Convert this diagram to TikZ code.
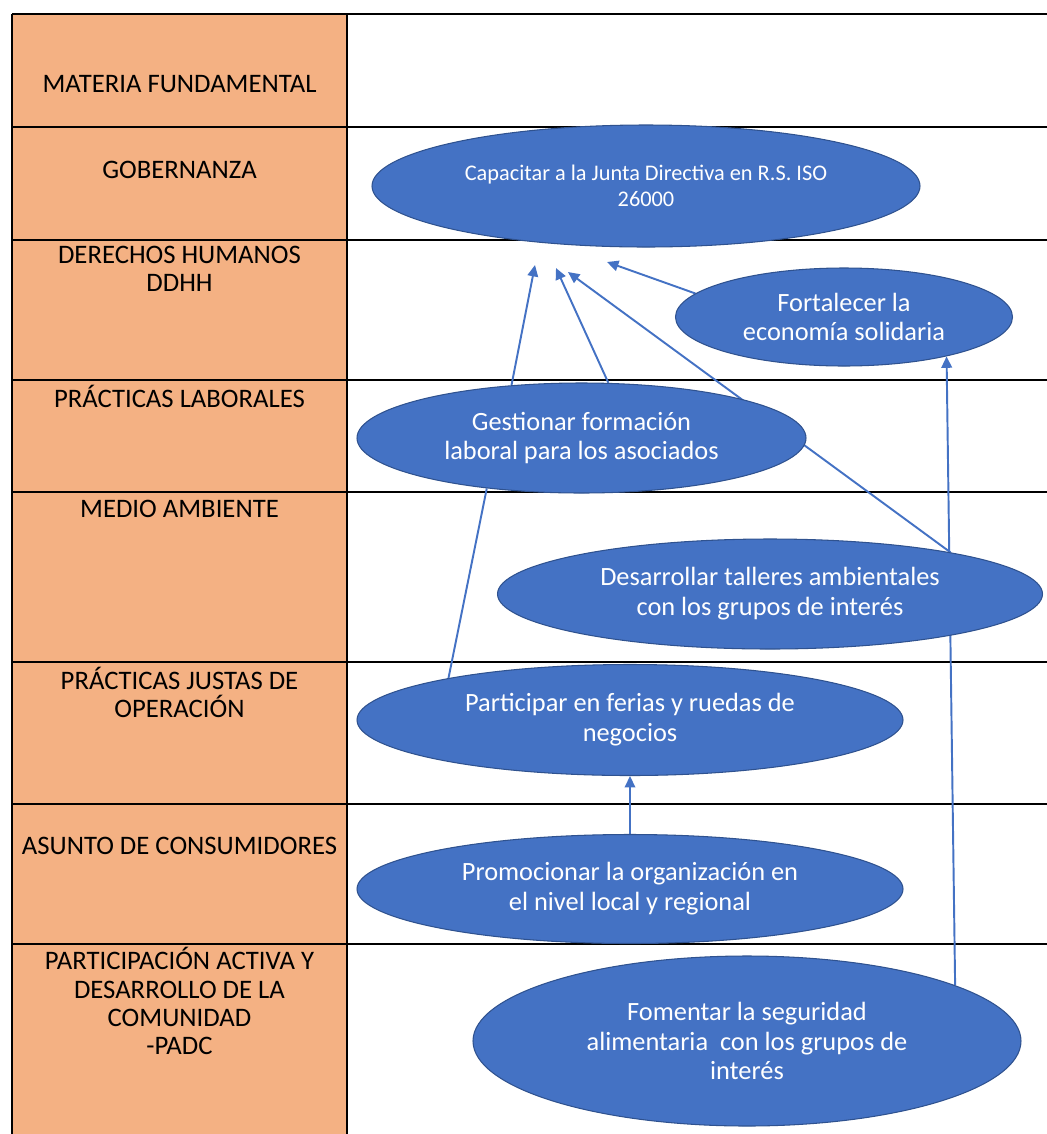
\documentclass[tikz,border=0pt]{standalone}
\usepackage{fontspec}
\setmainfont{Carlito}
\usepackage{xcolor}
\usetikzlibrary{shapes.geometric,arrows.meta}

\definecolor{goalblue}{HTML}{4472C4}
\definecolor{goalrim}{HTML}{2F528F}
\definecolor{topicorange}{HTML}{F4B183}

\pgfdeclarelayer{bg}
\pgfdeclarelayer{edges}
\pgfsetlayers{bg,edges,main}

\begin{document}
\begin{tikzpicture}[->,>={Triangle[length=6.5pt,width=6pt]},thick,
    goal/.style={ellipse,fill=goalblue,draw=goalrim,line width=0.6pt,text=white,align=center,inner sep=0pt,font=\fontsize{15}{17}\selectfont},
    topic/.style={align=center,inner sep=0pt,font=\fontsize{15.2}{16}\selectfont},
    link/.style={goalblue,line width=1.1pt},
    rule/.style={-,black,line width=0.8pt}]

    \useasboundingbox (0,0) rectangle (20.94,-22.68);

    % The table
    \begin{pgfonlayer}{bg}
    \fill[-,topicorange] (0.24,-0.28) rectangle (6.94,-22.68);
    \foreach \y in {-0.28,-2.54,-4.80,-7.60,-9.84,-13.24,-16.08,-18.88}
        \draw[rule] (0.24,\y) -- (20.94,\y);
    \draw[rule] (0.24,-0.28) -- (0.24,-22.68);
    \draw[rule] (6.94,-0.28) -- (6.94,-22.68);
    \end{pgfonlayer}

    % Subjects
    \node [topic] at (3.59,-1.68) (mat) {MATERIA FUNDAMENTAL};
    \node [topic] at (3.59,-3.40) (gob) {GOBERNANZA};
    \node [topic] at (3.59,-5.37) (ddhh) {DERECHOS HUMANOS\\DDHH};
    \node [topic] at (3.59,-7.92) (lab) {PRÁCTICAS LABORALES};
    \node [topic] at (3.59,-10.18) (amb) {MEDIO AMBIENTE};
    \node [topic] at (3.59,-13.85) (jus) {PRÁCTICAS JUSTAS DE\\OPERACIÓN};
    \node [topic] at (3.59,-16.92) (con) {ASUNTO DE CONSUMIDORES};
    \node [topic] at (3.59,-20.02) (padc) {PARTICIPACIÓN ACTIVA Y\\DESARROLLO DE LA\\COMUNIDAD\\-PADC};

    % The goals
    \node [goal,minimum width=10.96cm,minimum height=2.44cm,font=\fontsize{12.7}{14.7}\selectfont] at (12.92,-3.72) (cap) {Capacitar a la Junta Directiva en R.S. ISO\\26000};
    \node [goal,minimum width=6.74cm,minimum height=1.96cm] at (16.88,-6.34) (fort) {Fortalecer la\\economía solidaria};
    \node [goal,minimum width=8.98cm,minimum height=2.20cm] at (11.63,-8.76) (gest) {Gestionar formación\\laboral para los asociados};
    \node [goal,minimum width=10.90cm,minimum height=2.20cm] at (15.40,-11.88) (desa) {Desarrollar talleres ambientales\\con los grupos de interés};
    \node [goal,minimum width=10.92cm,minimum height=2.22cm] at (12.60,-14.40) (part) {Participar en ferias y ruedas de\\negocios};
    \node [goal,minimum width=10.92cm,minimum height=2.18cm] at (12.60,-17.78) (prom) {Promocionar la organización en\\el nivel local y regional};
    \node [goal,minimum width=10.96cm,minimum height=3.40cm] at (14.94,-20.82) (fome) {Fomentar la seguridad\\alimentaria\ \ con los grupos de\\interés};

    % arrow ends under the top goal
    \coordinate (t1) at (10.70,-5.30);
    \coordinate (t2) at (11.12,-5.36);
    \coordinate (t3) at (11.36,-5.44);
    \coordinate (t4) at (12.14,-5.24);

    % Goal links
    \begin{pgfonlayer}{edges}
    \path[link]
    (gest.143) edge (t1)
    (gest.64) edge (t2)
    (desa.13) edge (t3)
    (fort.171) edge (t4)
    (fome.15.5) edge (fort.-21)
    (prom) edge (part)
    (part.167) edge[-] (gest.-152);
    \end{pgfonlayer}

\end{tikzpicture}
\end{document}
